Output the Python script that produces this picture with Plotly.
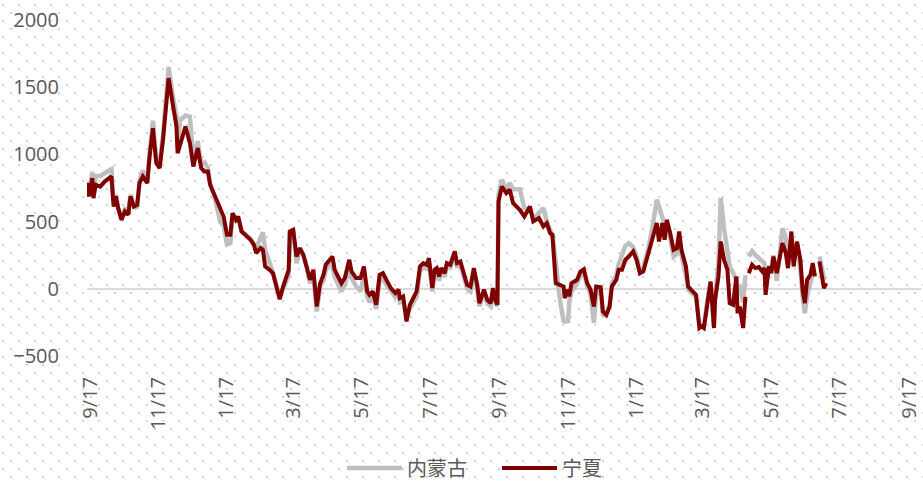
import base64
import plotly.graph_objects as go

# ---------------- data ----------------
dates = [
"2020-09-15","2020-09-16","2020-09-19","2020-09-20","2020-09-22","2020-09-26","2020-09-30","2020-10-06","2020-10-08","2020-10-10",
"2020-10-12","2020-10-15","2020-10-18","2020-10-21","2020-10-23","2020-10-26","2020-10-29","2020-10-31","2020-11-03","2020-11-07",
"2020-11-09","2020-11-12","2020-11-15","2020-11-18","2020-11-21","2020-11-26","2020-11-30","2020-12-03","2020-12-04","2020-12-06",
"2020-12-11","2020-12-15","2020-12-18","2020-12-22","2020-12-25","2020-12-28","2020-12-31","2021-01-02","2021-01-06","2021-01-11",
"2021-01-14","2021-01-17","2021-01-20","2021-01-22","2021-01-25","2021-01-27","2021-01-30","2021-02-07","2021-02-10","2021-02-12",
"2021-02-16","2021-02-18","2021-02-20","2021-02-24","2021-02-27","2021-03-02","2021-03-05","2021-03-08","2021-03-11","2021-03-13",
"2021-03-14","2021-03-17","2021-03-20","2021-03-23","2021-03-26","2021-03-29","2021-04-01","2021-04-04","2021-04-07","2021-04-10",
"2021-04-13","2021-04-15","2021-04-18","2021-04-21","2021-04-23","2021-04-26","2021-04-29","2021-05-02","2021-05-06","2021-05-08",
"2021-05-12","2021-05-16","2021-05-19","2021-05-22","2021-05-24","2021-05-27","2021-05-30","2021-06-02","2021-06-05","2021-06-08",
"2021-06-12","2021-06-16","2021-06-19","2021-06-20","2021-06-23","2021-06-26","2021-06-29","2021-07-02","2021-07-05","2021-07-08",
"2021-07-11","2021-07-14","2021-07-16","2021-07-19","2021-07-21","2021-07-23","2021-07-25","2021-07-27","2021-07-30","2021-08-01",
"2021-08-04","2021-08-08","2021-08-10","2021-08-13","2021-08-16","2021-08-19","2021-08-22","2021-08-25","2021-08-28","2021-08-30",
"2021-09-03","2021-09-06","2021-09-09","2021-09-11","2021-09-13","2021-09-15","2021-09-16","2021-09-19","2021-09-23","2021-09-26",
"2021-09-29","2021-10-05","2021-10-09","2021-10-14","2021-10-17","2021-10-22","2021-10-26","2021-10-29","2021-11-01","2021-11-03",
"2021-11-06","2021-11-10","2021-11-13","2021-11-14","2021-11-17","2021-11-18","2021-11-20","2021-11-25","2021-11-28","2021-12-01",
"2021-12-04","2021-12-07","2021-12-10","2021-12-12","2021-12-16","2021-12-18","2021-12-21","2021-12-24","2021-12-26","2021-12-30",
"2022-01-01","2022-01-04","2022-01-07","2022-01-10","2022-01-14","2022-01-17","2022-01-20","2022-01-23","2022-01-28","2022-02-01",
"2022-02-04","2022-02-06","2022-02-09","2022-02-11","2022-02-13","2022-02-16","2022-02-19","2022-02-22","2022-02-24","2022-02-26",
"2022-03-02","2022-03-04","2022-03-08","2022-03-11","2022-03-14","2022-03-16","2022-03-18","2022-03-21","2022-03-24","2022-03-27",
"2022-03-28","2022-03-31","2022-04-02","2022-04-05","2022-04-08","2022-04-10","2022-04-13","2022-04-16","2022-04-17","2022-04-19",
"2022-04-22","2022-04-24","2022-04-25","2022-04-27","2022-04-30","2022-05-03","2022-05-06","2022-05-09","2022-05-11","2022-05-12",
"2022-05-15","2022-05-17","2022-05-19","2022-05-22","2022-05-25","2022-05-27","2022-05-30","2022-06-01","2022-06-04","2022-06-06",
"2022-06-09","2022-06-12","2022-06-14","2022-06-16","2022-06-18","2022-06-21","2022-06-23","2022-06-25","2022-06-27","2022-06-29",
"2022-07-01","2022-07-03","2022-07-05",
]

ningxia = [
787,687,823,675,774,761,798,836,612,687,
600,513,575,551,687,612,625,787,836,787,
984,1195,935,898,1109,1568,1356,1207,1009,1059,
1207,1084,910,1047,898,873,873,774,699,612,
538,402,402,563,513,538,426,365,327,266,
303,290,166,141,116,17,-77,17,104,141,
426,439,240,303,253,166,67,141,-132,40,
104,179,216,240,141,92,42,80,216,129,
80,80,166,-20,-45,-20,-119,104,116,67,
5,-32,-7,-69,-57,-243,-119,-69,-20,166,
191,179,228,5,141,154,92,154,116,191,
179,278,191,203,116,30,17,154,30,-107,
-7,-82,-107,5,-82,-119,650,761,712,737,
637,588,538,612,501,526,464,489,414,402,
42,30,17,-69,-7,-57,42,67,129,146,
42,-7,-132,17,12,-169,-193,-132,17,67,
141,141,216,240,278,216,116,129,278,414,
489,352,489,365,513,414,290,303,426,290,
166,17,-20,-45,-292,-280,-292,-94,54,-292,
-82,92,352,216,141,-107,-119,92,-181,-132,
-292,-60,None,116,179,154,161,129,154,-45,
166,116,240,116,266,340,266,154,426,166,
352,216,-7,-107,67,104,191,92,None,203,
116,5,42,
]

inner_mongolia = [
800,700,870,720,840,840,860,890,640,700,
600,530,590,570,700,620,600,800,880,800,
1000,1250,950,920,1150,1650,1420,1280,1040,1250,
1290,1280,960,1100,920,940,900,780,680,500,
470,330,340,560,500,530,430,370,330,300,
380,420,290,200,120,30,-60,0,60,100,
420,430,190,290,250,170,40,100,-169,20,
60,140,180,180,90,40,-20,30,160,80,
20,-20,100,-60,-100,-60,-150,60,80,30,
-20,-60,-30,-100,-90,-180,-150,-100,-60,130,
160,150,190,-20,110,130,60,130,90,170,
160,250,170,180,90,0,-20,120,0,-130,
-30,-110,-130,-20,-100,-130,700,811,740,787,
740,740,600,590,520,560,600,500,430,400,
200,-100,-240,-245,-240,-100,-20,40,100,120,
20,-40,-253,-50,0,-190,-200,-120,40,100,
180,240,320,340,310,240,130,150,320,500,
662,612,530,480,460,380,240,260,380,250,
100,-7,-40,-60,-260,-270,-280,-90,50,-280,
-60,200,677,450,300,166,120,60,-30,30,
-100,100,None,240,280,250,228,200,190,60,
170,130,250,60,300,451,380,220,380,200,
330,150,-60,-181,-60,40,120,100,None,240,
160,80,92,
]

tick_dates = ["2020-09-17","2020-11-17","2021-01-17","2021-03-17","2021-05-17","2021-07-17",
              "2021-09-17","2021-11-17","2022-01-17","2022-03-17","2022-05-17","2022-07-17","2022-09-17"]
tick_labels = ["9/17","11/17","1/17","3/17","5/17","7/17","9/17","11/17","1/17","3/17","5/17","7/17","9/17"]

series_names = ["内蒙古", "宁夏"]

# ---------------- styling ----------------
W, H = 923, 481
ML, MR, MT, MB = 87, 2, 20, 125
PW, PH = W - ML - MR, H - MT - MB

# dotted background pattern (decorative)
svg = (f'<svg xmlns="http://www.w3.org/2000/svg" width="{W}" height="{H}">'
       '<defs><pattern id="p" x="0" y="0" width="16" height="16" patternUnits="userSpaceOnUse">'
       '<rect x="2" y="4" width="2" height="2" fill="#D4D4D4"/>'
       '<rect x="10" y="12" width="2" height="2" fill="#D4D4D4"/>'
       '</pattern></defs>'
       f'<rect width="{W}" height="{H}" fill="#FFFFFF"/>'
       f'<rect width="{W}" height="{H}" fill="url(#p)"/></svg>')
bg_src = "data:image/svg+xml;base64," + base64.b64encode(svg.encode()).decode()

fig = go.Figure()
fig.add_trace(go.Scatter(x=dates, y=inner_mongolia, name=series_names[0], mode="lines",
                         line=dict(color="#BFBFBF", width=4.5)))
fig.add_trace(go.Scatter(x=dates, y=ningxia, name=series_names[1], mode="lines",
                         line=dict(color="#800000", width=4)))

fig.update_layout(
    width=W, height=H,
    margin=dict(l=ML, r=MR, t=MT, b=MB, pad=0, autoexpand=False),
    paper_bgcolor="rgba(0,0,0,0)",
    plot_bgcolor="rgba(0,0,0,0)",
    font=dict(family="Open Sans, Noto Sans CJK SC, sans-serif", size=20, color="#595959"),
    images=[dict(source=bg_src, xref="paper", yref="paper",
                 x=-ML / PW, y=1 + MT / PH, sizex=W / PW, sizey=H / PH,
                 xanchor="left", yanchor="top", sizing="stretch", layer="below")],
    showlegend=True,
    legend=dict(orientation="h", x=(342 - ML) / PW, xanchor="left",
                y=(PH - (468 - MT)) / PH, yanchor="middle",
                font=dict(family="Noto Sans CJK SC", size=20, color="#595959"),
                bgcolor="rgba(0,0,0,0)", itemwidth=55, traceorder="normal",
                entrywidth=85, entrywidthmode="pixels"),
    xaxis=dict(type="date", range=["2020-09-14 06:00", "2022-09-27 12:00"],
               tickmode="array", tickvals=tick_dates, ticktext=tick_labels,
               tickangle=-90, showgrid=False, showline=False, zeroline=False,
               ticks="", ticklabelstandoff=16, automargin=False,
               ticklabeloverflow="allow",
               tickfont=dict(family="Open Sans", size=20, color="#595959")),
    yaxis=dict(range=[-500, 2000], dtick=500, tick0=0, showgrid=False,
               showline=False, zeroline=True, zerolinecolor="#D9D9D9", zerolinewidth=2,
               ticks="", ticklabelstandoff=27, automargin=False,
               ticklabeloverflow="allow",
               tickfont=dict(family="Open Sans", size=20, color="#595959")),
)

fig.write_html("out.html",
               config={"displayModeBar": False},
               post_script="document.body.style.margin='0';document.body.style.padding='0';")
